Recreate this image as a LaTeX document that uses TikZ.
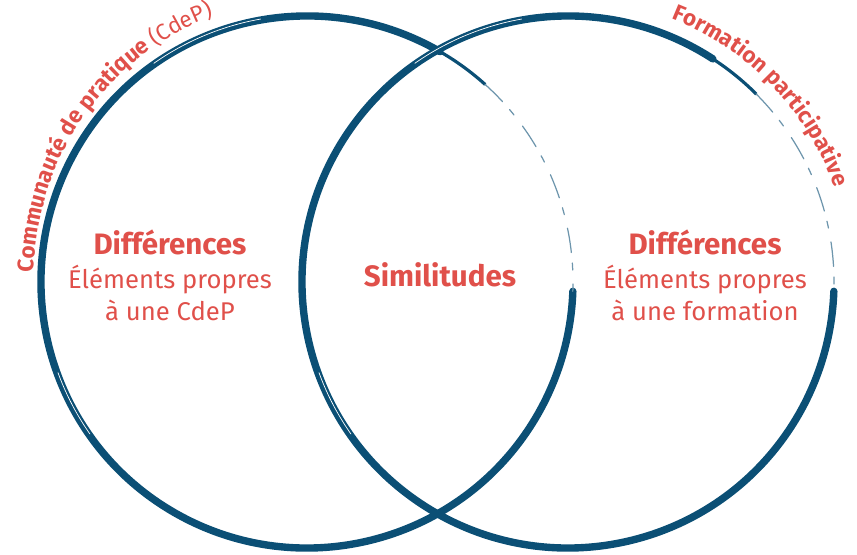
\documentclass[tikz,border=0pt]{standalone}
\usepackage{fontspec}
\setmainfont{Fira Sans}
\usetikzlibrary{decorations.text}
\definecolor{venblue}{HTML}{0B4F75}
\definecolor{venred}{HTML}{E0504A}
\tikzset{
	brush/.style={draw=venblue, line width=2.1pt},
	thinbrush/.style={draw=venblue, line width=0.9pt},
	faded/.style={draw=venblue!60, line width=0.35pt, dash pattern=on 7pt off 3pt on 2pt off 4pt},
	lbl/.style={text=venred, inner sep=0pt, anchor=base, font=\fontsize{7.3}{8.5}\selectfont},
	lblbold/.style={lbl, font=\fontsize{8.4}{9.4}\selectfont\bfseries},
}
\newcommand{\arcfont}{\fontsize{6.4}{7}\selectfont}

\begin{document}
\begin{tikzpicture}[line join=round, line cap=round]
			\useasboundingbox (0,0) rectangle (8.57,5.54);
			\coordinate (cl) at (3.07,2.72);
			\coordinate (cr) at (5.68,2.72);
			% les deux cercles, plus pales en haut a droite
			\foreach \c/\a/\b in {cl/60/48, cr/57/45}{
				\draw[brush] (\c) ++(\a:2.66) arc[start angle=\a, end angle=358, radius=2.66];
				\draw[thinbrush] (\c) ++(\a:2.66) arc[start angle=\a, end angle=\b, radius=2.66];
				\draw[faded] (\c) ++(\b:2.66) arc[start angle=\b, end angle=-2, radius=2.66];
				\draw[white, line width=0.2pt] (\c) ++(100:2.67) arc[start angle=100, end angle=125, radius=2.67];
				\draw[white, line width=0.2pt] (\c) ++(200:2.65) arc[start angle=200, end angle=215, radius=2.65];
			}
			% titres sur les arcs
			\coordinate (tl) at (3.12,2.78);
			\path[decorate, decoration={text along path, text align=center, text color=venred,
				text={|\arcfont\bfseries|Communauté de pratique |\arcfont|(CdeP)}}]
				(tl) ++(192:2.78) arc[start angle=192, end angle=98, radius=2.78];
			\path[decorate, decoration={text along path, text align=center, text color=venred,
				text={|\arcfont\bfseries|Formation participative}}]
				(cr) ++(80:2.83) arc[start angle=80, end angle=8, radius=2.83];
			% textes
			\node[lblbold] (difcdep) at (1.70,2.99) {Différences};
			\node[lbl] (elemcdep) at (1.70,2.65) {Éléments propres};
			\node[lbl] (unecdep) at (1.70,2.33) {à une CdeP};
			\node[lblbold] (simil) at (4.40,2.67) {Similitudes};
			\node[lblbold] (difform) at (7.05,2.99) {Différences};
			\node[lbl] (elemform) at (7.05,2.65) {Éléments propres};
			\node[lbl] (uneform) at (7.05,2.33) {à une formation};
		\end{tikzpicture}
\end{document}
